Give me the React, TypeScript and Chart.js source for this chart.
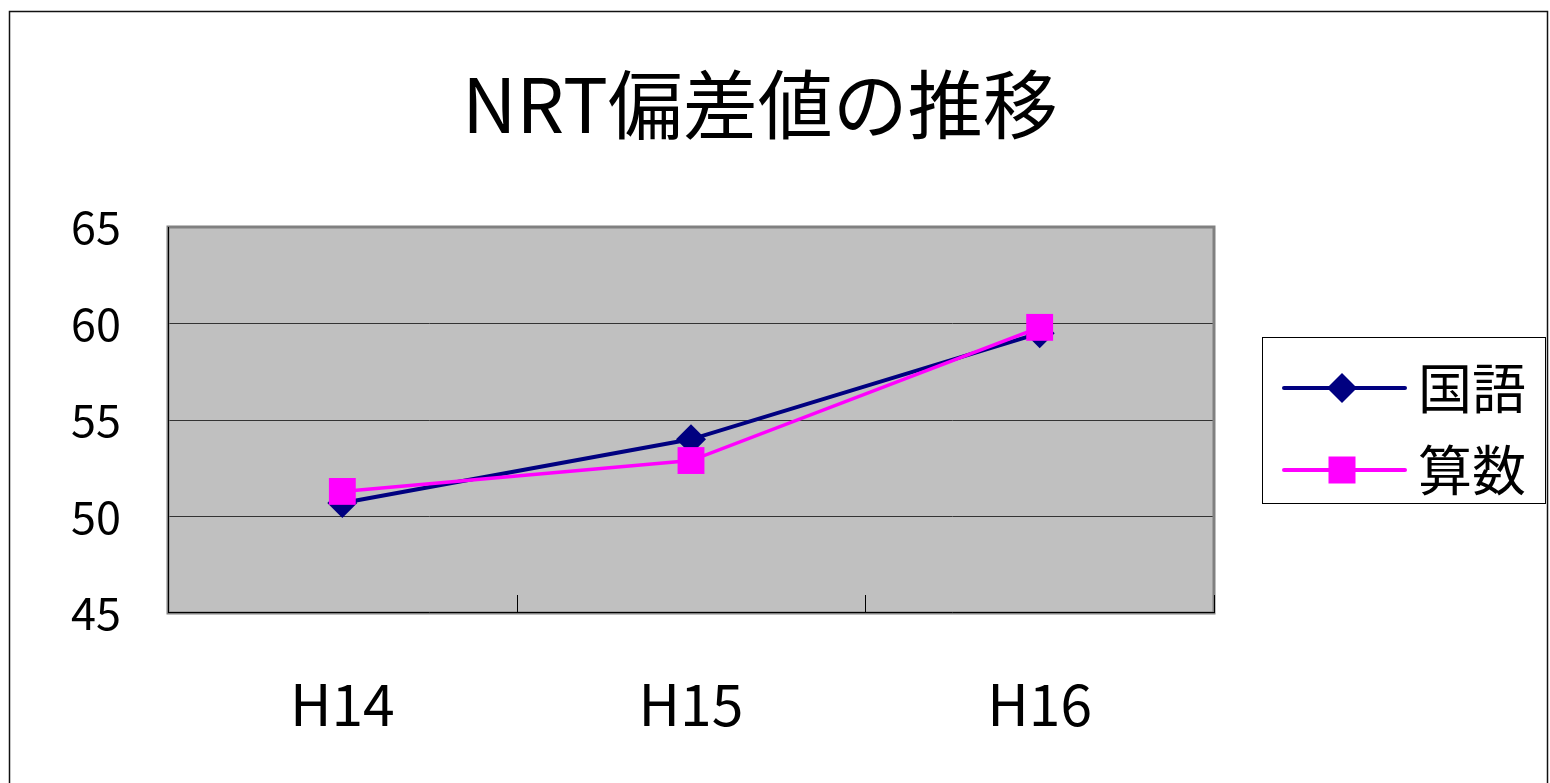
import React, { useEffect, useRef } from "react";
import { Chart, registerables } from "chart.js";

Chart.register(...registerables);

const titleText = "NRT偏差値の推移";
const categories = ["H14", "H15", "H16"];
const seriesNames = ["国語", "算数"];
const kokugoValues = [50.7, 54.0, 59.5];
const sansuValues = [51.3, 52.9, 59.8];
const yMin = 45;
const yMax = 65;
const yStep = 5;

const FONT = "'Noto Sans CJK JP', 'Noto Sans', sans-serif";

const bgPlugin = {
  id: "plotBg",
  beforeDraw(chart: any) {
    const { ctx, chartArea: a } = chart;
    ctx.save();
    ctx.fillStyle = "#ffffff";
    ctx.fillRect(0, 0, chart.width, chart.height);
    ctx.fillStyle = "#c0c0c0";
    ctx.fillRect(a.left, a.top, a.right - a.left, a.bottom - a.top);
    ctx.strokeStyle = "#111111";
    ctx.lineWidth = 1.5;
    ctx.strokeRect(9.5, 11.5, 1538, 800);
    ctx.restore();
  },
  beforeDatasetsDraw(chart: any) {
    const { ctx, chartArea: a, scales } = chart;
    ctx.save();
    ctx.strokeStyle = "#808080";
    ctx.lineWidth = 3;
    ctx.strokeRect(a.left, a.top, a.right - a.left, a.bottom - a.top);
    ctx.strokeStyle = "#000000";
    ctx.lineWidth = 1;
    ctx.beginPath();
    ctx.moveTo(a.left + 0.5, a.top);
    ctx.lineTo(a.left + 0.5, a.bottom);
    ctx.moveTo(a.left, a.bottom - 0.5);
    ctx.lineTo(a.right, a.bottom - 0.5);
    const xs = scales.x;
    const n = categories.length;
    for (let i = 0; i < n; i++) {
      const p0 = xs.getPixelForValue(i);
      const bx = i < n - 1 ? (p0 + xs.getPixelForValue(i + 1)) / 2 : a.right;
      ctx.moveTo(Math.round(bx) + 0.5, a.bottom - 18);
      ctx.lineTo(Math.round(bx) + 0.5, a.bottom);
    }
    ctx.stroke();
    ctx.restore();
  },
};

const legendPlugin = {
  id: "boxLegend",
  afterDraw(chart: any) {
    const { ctx } = chart;
    ctx.save();
    ctx.strokeStyle = "#000000";
    ctx.lineWidth = 1;
    ctx.strokeRect(1262.5, 337.5, 283, 166);
    const rows = [388, 470];
    const dsList = [chart.data.datasets[0], chart.data.datasets[1]];
    dsList.forEach((ds: any, i: number) => {
      const y = rows[i];
      ctx.strokeStyle = ds.borderColor;
      ctx.lineWidth = 4;
      ctx.lineCap = "round";
      ctx.beginPath();
      ctx.moveTo(1284, y);
      ctx.lineTo(1405, y);
      ctx.stroke();
      ctx.fillStyle = ds.pointBackgroundColor;
      const cx = 1342;
      if (ds.pointStyle === "rectRot") {
        const r = 15;
        ctx.beginPath();
        ctx.moveTo(cx - r, y);
        ctx.lineTo(cx, y - r);
        ctx.lineTo(cx + r, y);
        ctx.lineTo(cx, y + r);
        ctx.closePath();
        ctx.fill();
      } else {
        const s = 13.5;
        ctx.fillRect(cx - s, y - s, 2 * s, 2 * s);
      }
      ctx.fillStyle = "#000000";
      ctx.font = `54px ${FONT}`;
      ctx.textBaseline = "middle";
      ctx.textAlign = "left";
      ctx.fillText(ds.label, 1418, y);
    });
    ctx.restore();
  },
};

export default function App() {
  const ref = useRef<HTMLCanvasElement | null>(null);

  useEffect(() => {
    if (!ref.current) return;
    const chart = new Chart(ref.current, {
      type: "line",
      data: {
        labels: categories,
        datasets: [
          {
            label: seriesNames[0],
            data: kokugoValues,
            borderColor: "#000080",
            backgroundColor: "#000080",
            pointBackgroundColor: "#000080",
            pointBorderColor: "#000080",
            borderWidth: 4,
            pointStyle: "rectRot",
            pointRadius: 15,
            pointBorderWidth: 0,
            tension: 0,
            order: 1,
            yAxisID: "y",
          },
          {
            label: seriesNames[1],
            data: sansuValues,
            borderColor: "#ff00ff",
            backgroundColor: "#ff00ff",
            pointBackgroundColor: "#ff00ff",
            pointBorderColor: "#ff00ff",
            borderWidth: 3.5,
            pointStyle: "rect",
            pointRadius: 19,
            pointBorderWidth: 0,
            tension: 0,
            order: 0,
            yAxisID: "y",
          },
        ],
      } as any,
      options: {
        responsive: false,
        animation: false,
        layout: { padding: { left: 0, right: 30, top: 0, bottom: 0 } },
        plugins: {
          legend: { display: false },
          tooltip: { enabled: false },
          title: {
            display: true,
            text: titleText,
            color: "#000000",
            font: { family: FONT, size: 75, weight: "normal", lineHeight: 1.2 },
            padding: { top: 59, bottom: 78 },
          },
        },
        scales: {
          x: {
            type: "category",
            offset: true,
            grid: { display: false, drawTicks: false },
            border: { display: false },
            ticks: {
              color: "#000000",
              padding: 57,
              font: { family: FONT, size: 57 },
            },
            afterFit(scale: any) {
              scale.height = 170;
            },
          },
          y: {
            position: "left",
            min: yMin,
            max: yMax,
            grid: { color: "#333333", lineWidth: 1, drawTicks: false },
            border: { display: false },
            ticks: {
              stepSize: yStep,
              color: "#000000",
              padding: 47,
              font: { family: FONT, size: 45 },
            },
            afterFit(scale: any) {
              scale.width = 168;
            },
          },
          legendSpace: {
            type: "linear",
            position: "right",
            min: yMin,
            max: yMax,
            grid: { display: false, drawTicks: false },
            border: { display: false },
            ticks: { display: false },
            afterFit(scale: any) {
              scale.width = 306;
            },
          },
        },
      },
      plugins: [bgPlugin, legendPlugin],
    } as any);
    return () => chart.destroy();
  }, []);

  return (
    <div style={{ position: "fixed", left: 0, top: 0, width: 1550, height: 783 }}>
      <canvas ref={ref} width={1550} height={783} style={{ display: "block" }} />
    </div>
  );
}
